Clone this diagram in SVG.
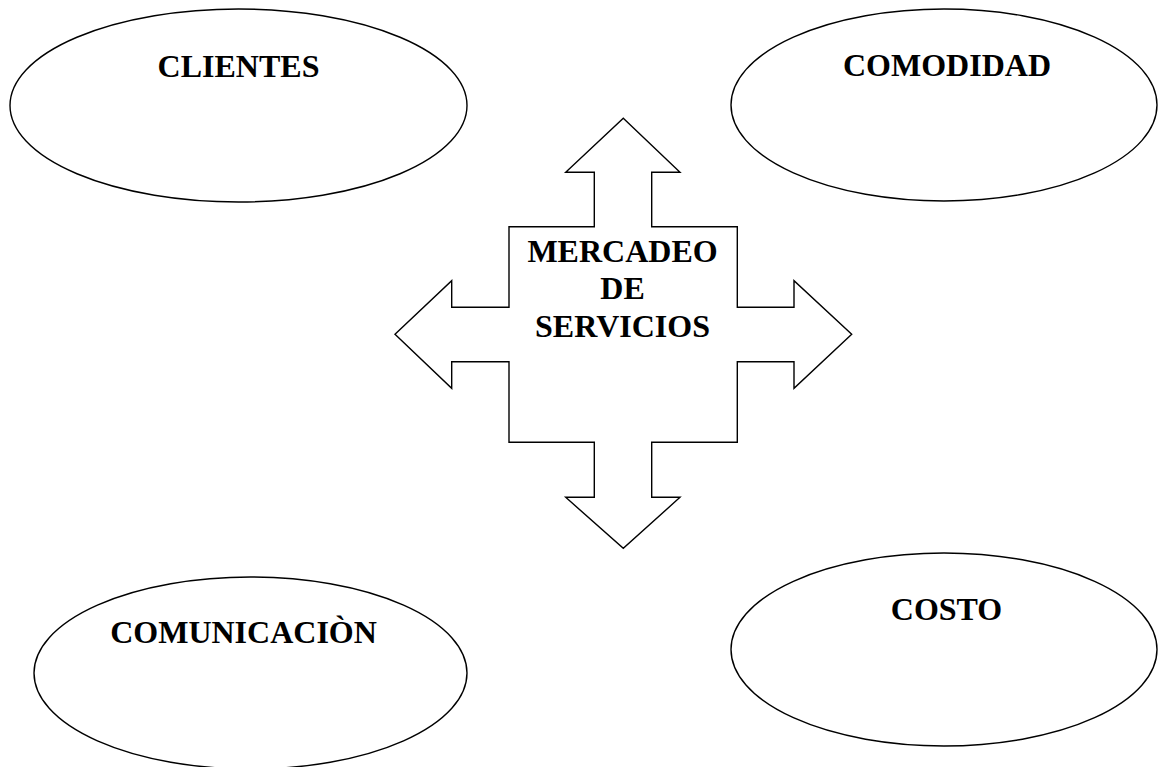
<svg xmlns="http://www.w3.org/2000/svg" width="1158" height="767" viewBox="0 0 1158 767">
<style>
.shape{fill:#fff;stroke:#000;stroke-width:1.4}
.lbl{font-family:"Liberation Serif","Times New Roman",serif;font-weight:bold;font-size:32px;fill:#000;text-anchor:middle}
</style>
<rect width="1158" height="767" fill="#fff"/>
<g id="clientes">
<ellipse class="shape" cx="238.5" cy="105.5" rx="228.5" ry="96.5"/>
<text class="lbl" x="238.5" y="77">CLIENTES</text>
</g>
<g id="comodidad">
<ellipse class="shape" cx="944" cy="105" rx="213" ry="96"/>
<text class="lbl" x="947" y="76">COMODIDAD</text>
</g>
<g id="comunicacion">
<ellipse class="shape" cx="250.5" cy="673" rx="216.5" ry="96"/>
<text class="lbl" x="243.5" y="643">COMUNICACIÒN</text>
</g>
<g id="costo">
<ellipse class="shape" cx="944" cy="649.5" rx="213" ry="96.5"/>
<text class="lbl" x="946.5" y="620">COSTO</text>
</g>
<g id="mercadeo">
<path class="shape" d="M623.3,118.3 L680,172.3 L651.7,172.3 L651.7,226.7 L737.3,226.7 L737.3,307.3 L794,307.3 L794,280.7 L851.7,334.3 L794,388.3 L794,361.7 L737.3,361.7 L737.3,442.3 L651.7,442.3 L651.7,497.3 L680,497.3 L623.3,548.3 L565.7,497.3 L594.3,497.3 L594.3,442.3 L509,442.3 L509,361.7 L451.7,361.7 L451.7,388.3 L395,334.3 L451.7,280.7 L451.7,307.3 L509,307.3 L509,226.7 L594.3,226.7 L594.3,172.3 L565.7,172.3 Z"/>
<text class="lbl" x="622.5" y="262">MERCADEO</text>
<text class="lbl" x="622.5" y="298.5">DE</text>
<text class="lbl" x="622.5" y="336.5">SERVICIOS</text>
</g>
<g id="connectors"></g>
</svg>
